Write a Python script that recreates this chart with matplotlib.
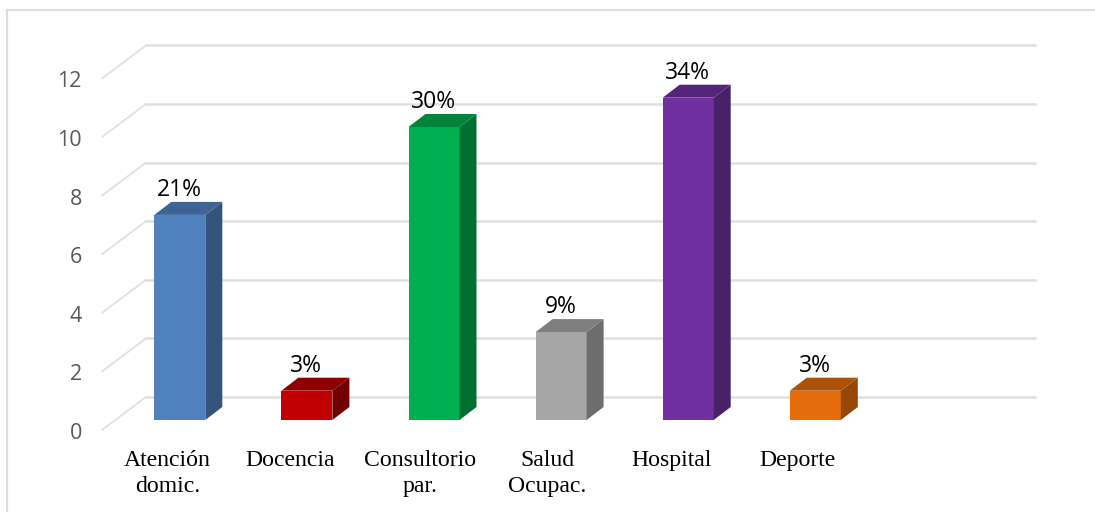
import matplotlib
matplotlib.use("Agg")
import matplotlib.pyplot as plt
from matplotlib.lines import Line2D
from matplotlib.patches import Polygon
from matplotlib.transforms import ScaledTranslation

categories = ["Atención\ndomic.", "Docencia", "Consultorio\npar.", "Salud\nOcupac.", "Hospital", "Deporte"]
values = [7, 1, 10, 3, 11, 1]
percent_labels = ["21%", "3%", "30%", "9%", "34%", "3%"]
y_ticks = [0, 2, 4, 6, 8, 10, 12]
front_colors = ["#4F81BD", "#C00000", "#00B050", "#A6A6A6", "#7030A0", "#E46C0A"]
top_colors = ["#3E6496", "#900000", "#00843C", "#7F7F7F", "#542478", "#AC5108"]
side_colors = ["#345479", "#730000", "#007030", "#6D6D6D", "#4A2069", "#964707"]
label_shift_px = [-12.5, -16.5, -14, -14, -17, -18]

W, H = 1095, 512
fig = plt.figure(figsize=(W / 100, H / 100), dpi=100, facecolor="white")

L, R, B, T = 102, 1035, 420, 68.4
X0, UX = 179.8, 127.1
ax = fig.add_axes([L / W, 1 - B / H, (R - L) / W, (B - T) / H])
ax.set_xlim((L - X0) / UX, (R - X0) / UX)
ax.set_ylim(0, 12)
ax.patch.set_alpha(0)
for s in ax.spines.values():
    s.set_visible(False)

ux, uy = UX, (B - T) / 12
GRID = "#E0E0E0"
x0, x1 = ax.get_xlim()
wall_dx, wall_back = 44 / ux, 23 / uy
wall_front = -10 / uy
for v in y_ticks:
    ax.plot([x0, x0 + wall_dx], [v + wall_front, v + wall_back], color=GRID, lw=1.3, clip_on=False, zorder=1, solid_capstyle="round")
    ax.plot([x0 + wall_dx, x1], [v + wall_back] * 2, color=GRID, lw=1.8, clip_on=False, zorder=1)

bw = 51 / ux
dx, dy = 17 / ux, 13 / uy
xs = list(range(len(values)))
ax.bar(xs, values, width=bw, color=front_colors, edgecolor="none", zorder=3)
for x, v, tc, sc, lab in zip(xs, values, top_colors, side_colors, percent_labels):
    l, r = x - bw / 2, x + bw / 2
    ax.add_patch(Polygon([(r, 0), (r + dx, dy), (r + dx, v + dy), (r, v)], closed=True, fc=sc, ec="none", zorder=3, clip_on=False))
    ax.add_patch(Polygon([(l, v), (l + dx, v + dy), (r + dx, v + dy), (r, v)], closed=True, fc=tc, ec="none", zorder=3, clip_on=False))
    ax.text(x - 0.5 / ux, v + 25 / uy, lab, ha="center", va="center", fontsize=16.5, family="Open Sans", color="black", zorder=4, clip_on=False)

ax.set_yticks(y_ticks)
ax.set_yticklabels([str(v) for v in y_ticks], family="Open Sans", fontsize=15.5, color="#595959")
ax.tick_params(axis="y", length=0, pad=14.5)
ax.set_xticks(xs)
ax.set_xticklabels(categories, family="Liberation Serif", fontsize=17.1, color="black", linespacing=1.3, ha="center")
ax.tick_params(axis="x", length=0, pad=21.5)
for lab, s in zip(ax.get_xticklabels(), label_shift_px):
    lab.set_transform(lab.get_transform() + ScaledTranslation(s / 100, 0, fig.dpi_scale_trans))
for lab in ax.get_yticklabels():
    lab.set_transform(lab.get_transform() + ScaledTranslation(0, -11 / 100, fig.dpi_scale_trans))

# chart frame: visible only on the top and left
fig.add_artist(Line2D([6.5 / W, 1], [1 - 9.5 / H] * 2, color="#DDDDDD", lw=1.6))
fig.add_artist(Line2D([6.5 / W, 6.5 / W], [0, 1 - 9.5 / H], color="#DDDDDD", lw=1.6))

fig.savefig("out.png", dpi=100, facecolor="white")
